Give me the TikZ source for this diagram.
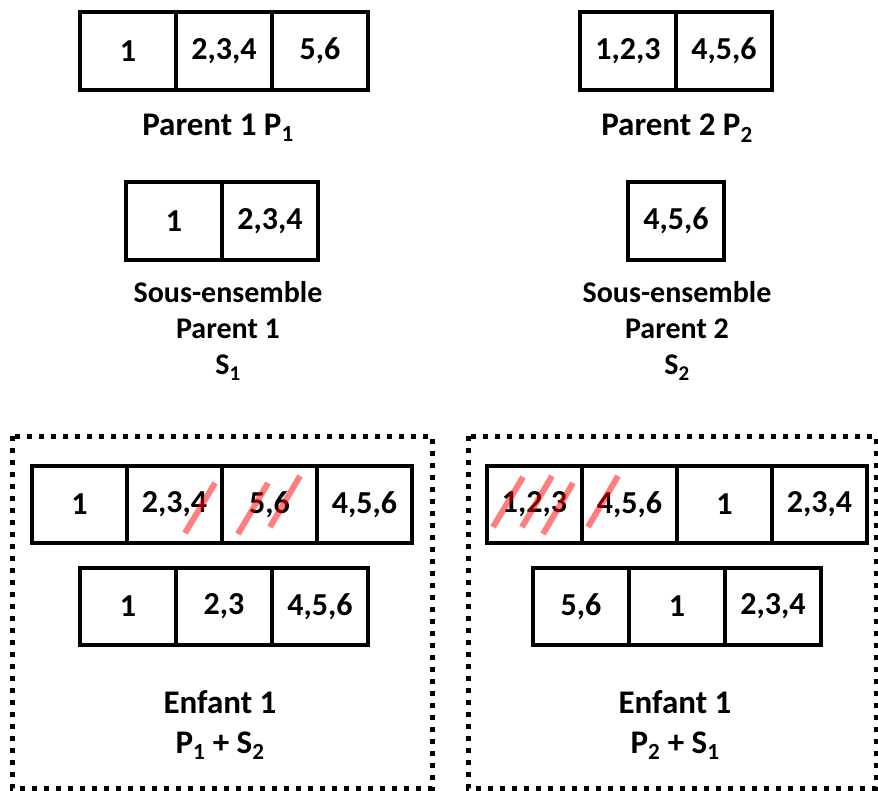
\documentclass[tikz,border=0pt]{standalone}
\usepackage{fontspec}
\setmainfont{Carlito}
\usetikzlibrary{positioning}

\begin{document}
\begin{tikzpicture}[
            x=1pt, y=-1pt,
            node distance=0pt,
            cell/.style={rectangle, draw, line width=4pt, minimum width=96pt, minimum height=77pt, inner sep=0pt, outer sep=0pt, font=\fontsize{32}{38}\selectfont\bfseries},
            caption/.style={align=center, font=\fontsize{30}{36}\selectfont\bfseries},
            bigcaption/.style={align=center, font=\fontsize{33}{40}\selectfont\bfseries},
            group/.style={draw, line width=5pt, dash pattern=on 5pt off 7pt},
            strike/.style={draw=red, opacity=0.5, line width=6pt}
        ]
            \useasboundingbox (0,0) rectangle (878,791);
            % parents
            \node[cell, minimum height=78pt] (p1a) at (128,51) {1};
            \node[cell, minimum height=78pt, right=of p1a] (p1b) {2,3,4};
            \node[cell, minimum height=78pt, right=of p1b] (p1c) {5,6};
            \node[bigcaption] (p1) at (218,128) {Parent 1 P\textsubscript{1}};
            \node[cell, minimum height=78pt] (p2a) at (628,51) {1,2,3};
            \node[cell, minimum height=78pt, right=of p2a] (p2b) {4,5,6};
            \node[bigcaption] (p2) at (677,128) {Parent 2 P\textsubscript{2}};
            % subsets
            \node[cell, minimum height=78pt] (s1a) at (174,221) {1};
            \node[cell, minimum height=78pt, right=of s1a] (s1b) {2,3,4};
            \node[caption] (s1) at (228,331) {Sous-ensemble\\Parent 1\\S\textsubscript{1}};
            \node[cell, minimum height=78pt] (s2a) at (676,221) {4,5,6};
            \node[caption] (s2) at (677,331) {Sous-ensemble\\Parent 2\\S\textsubscript{2}};
            % children
            \draw[group] (12,436) rectangle (432,788);
            \draw[group] (468,436) rectangle (876,788);
            \node[cell, minimum width=95pt] (e1a) at (79.5,504.5) {1};
            \node[cell, minimum width=95pt, right=of e1a] (e1b) {2,3,4};
            \node[cell, minimum width=95pt, right=of e1b] (e1c) {5,6};
            \node[cell, minimum width=95pt, right=of e1c] (e1d) {4,5,6};
            \node[cell] (f1a) at (128,606.5) {1};
            \node[cell, right=of f1a] (f1b) {2,3};
            \node[cell, right=of f1b] (f1c) {4,5,6};
            \node[bigcaption] (e1) at (220,725) {Enfant 1\\P\textsubscript{1} + S\textsubscript{2}};
            \node[cell, minimum width=95pt] (e2a) at (534.5,504.5) {1,2,3};
            \node[cell, minimum width=95pt, right=of e2a] (e2b) {4,5,6};
            \node[cell, minimum width=95pt, right=of e2b] (e2c) {1};
            \node[cell, minimum width=95pt, right=of e2c] (e2d) {2,3,4};
            \node[cell] (f2a) at (581,606.5) {5,6};
            \node[cell, right=of f2a] (f2b) {1};
            \node[cell, right=of f2b] (f2c) {2,3,4};
            \node[bigcaption] (e2) at (675,725) {Enfant 1\\P\textsubscript{2} + S\textsubscript{1}};
            % struck out genes
            \draw[strike] (185,533) -- (215,483);
            \draw[strike] (238,534) -- (268,483);
            \draw[strike] (270,527) -- (300,476);
            \draw[strike] (493,527) -- (523,477);
            \draw[strike] (522,527) -- (552,476);
            \draw[strike] (543,534) -- (573,483);
            \draw[strike] (588,527) -- (618,476);
        \end{tikzpicture}
\end{document}
